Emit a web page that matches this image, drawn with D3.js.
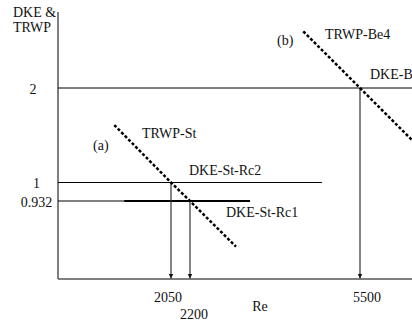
<!DOCTYPE html>
<html>
<head>
<meta charset="utf-8">
<style>
    body { margin: 0; background: #fff; }
    svg { display: block; font-family: "Liberation Serif", "Times New Roman", serif; }
    .lbl { font-size: 14px; fill: #111; }
</style>
</head>
<body>
<svg width="412" height="325"></svg>
<script src="https://d3js.org/d3.v7.min.js"></script>
<script>
    // schematic values
    const reTicks = [2050, 2200, 5500];
    const levelTicks = [2, 1, 0.932];

    // DKE horizontal levels: [level, Re start, Re end, heavy]
    const dkeLevels = [
        [2, 0, 6600, false],
        [1, 0, 4760, false],
        [0.932, 0, 1200, false],
        [0.932, 1200, 3365, true]
    ];

    // TRWP dotted lines
    const trwpSt = [[1021, 1.608], [2050, 1], [2200, 0.932], [3093, 0.386]];
    const trwpBe4 = [[4399, 2.596], [5500, 2], [6600, 1.40]];

    // critical points: [Re, level]
    const critical = [[2050, 1], [2200, 0.932], [5500, 2]];

    const svg = d3.select("svg");

    // schematic axes, piecewise
    const x = d3.scaleLinear()
        .domain([0, 2050, 2200, 5500, 6500])
        .range([58, 171, 190, 360, 411.5]);
    const y = d3.scaleLinear()
        .domain([0, 0.932, 1, 2, 2.8])
        .range([279, 201, 182.5, 88, 12]);

    svg.append("defs").append("marker")
        .attr("id", "arr")
        .attr("viewBox", "0 0 10 10")
        .attr("refX", 10).attr("refY", 5)
        .attr("markerWidth", 5).attr("markerHeight", 7)
        .attr("markerUnits", "userSpaceOnUse")
        .attr("orient", "auto")
        .append("path")
        .attr("d", "M0,0L10,5L0,10Z")
        .attr("fill", "#111");

    // axes
    svg.append("line")
        .attr("x1", x(0)).attr("x2", x(0))
        .attr("y1", y(2.8)).attr("y2", y(0))
        .attr("stroke", "#555").attr("stroke-width", 1.5);
    svg.append("line")
        .attr("x1", x(0)).attr("x2", 412)
        .attr("y1", y(0)).attr("y2", y(0))
        .attr("stroke", "#555").attr("stroke-width", 1.5);

    // DKE levels
    svg.append("g").selectAll("line")
        .data(dkeLevels)
        .join("line")
        .attr("x1", d => x(d[1]))
        .attr("x2", d => x(d[2]))
        .attr("y1", d => y(d[0]))
        .attr("y2", d => y(d[0]))
        .attr("stroke", "#000")
        .attr("stroke-width", d => d[3] ? 2 : 1);

    // arrows down to Re axis
    svg.append("g").selectAll("line")
        .data(critical)
        .join("line")
        .attr("x1", d => x(d[0]))
        .attr("x2", d => x(d[0]))
        .attr("y1", d => y(d[1]))
        .attr("y2", y(0) - 0.5)
        .attr("stroke", "#333")
        .attr("stroke-width", 1.2)
        .attr("marker-end", "url(#arr)");

    // TRWP dotted lines
    const line = d3.line().x(d => x(d[0])).y(d => y(d[1]));
    svg.append("g").selectAll("path")
        .data([trwpSt, trwpBe4])
        .join("path")
        .attr("d", line)
        .attr("fill", "none")
        .attr("stroke", "#000")
        .attr("stroke-width", 2.5)
        .attr("stroke-dasharray", "3,2");

    // y tick labels
    svg.append("g").selectAll("text")
        .data(levelTicks)
        .join("text")
        .attr("class", "lbl")
        .attr("x", d => d == 2 ? 33 : 36.5)
        .attr("y", d => y(d) + 5.5)
        .attr("text-anchor", "middle")
        .text(d => d);

    // x tick labels (2200 staggered lower)
    svg.append("g").selectAll("text")
        .data(reTicks)
        .join("text")
        .attr("class", "lbl")
        .attr("x", (d, i) => x(d) + [-3, 4, 7][i])
        .attr("y", (d, i) => i == 1 ? 319 : 302)
        .attr("text-anchor", "middle")
        .text(d => d);

    svg.append("text").attr("class", "lbl")
        .attr("x", 260).attr("y", 311).attr("text-anchor", "middle").text("Re");
    svg.append("text").attr("class", "lbl")
        .attr("x", 13).attr("y", 17).text("DKE &");
    svg.append("text").attr("class", "lbl")
        .attr("x", 13).attr("y", 32).text("TRWP");

    // annotations
    const notes = [
        ["(a)", 93, 150],
        ["TRWP-St", 142, 138],
        ["DKE-St-Rc2", 189, 175],
        ["DKE-St-Rc1", 226, 217],
        ["(b)", 277, 45],
        ["TRWP-Be4", 325, 39],
        ["DKE-Be4", 370, 79]
    ];
    svg.append("g").selectAll("text")
        .data(notes)
        .join("text")
        .attr("class", "lbl")
        .attr("x", d => d[1])
        .attr("y", d => d[2])
        .text(d => d[0]);
</script>
</body>
</html>
